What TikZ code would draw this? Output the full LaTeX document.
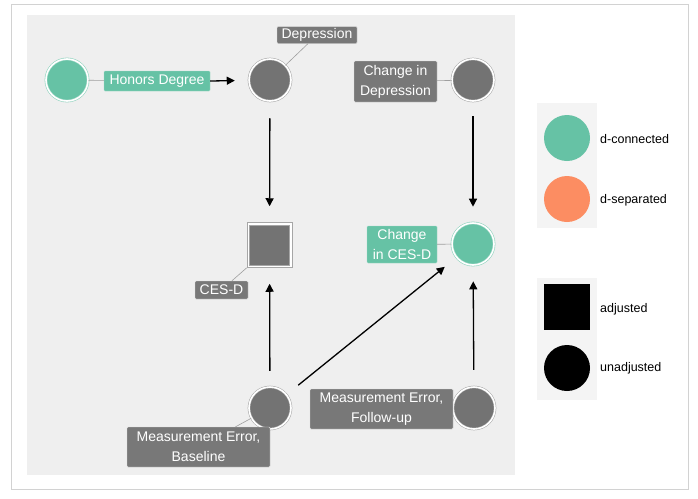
\documentclass[tikz,border=0pt]{standalone}
\usepackage{fontspec}
\setmainfont{Liberation Sans}
\usetikzlibrary{arrows.meta}
\definecolor{dteal}{HTML}{66C2A5}
\definecolor{dorange}{HTML}{FC8D62}
\definecolor{nodegray}{HTML}{737373}
\definecolor{labgray}{HTML}{787878}
\definecolor{panel}{HTML}{EFEFEF}
\definecolor{legpanel}{HTML}{F4F4F4}
\tikzset{
  gnode/.style={circle, fill=nodegray, draw=gray!70, double=white, double distance=1.6pt, line width=0.5pt, minimum size=42pt, inner sep=0pt},
  tnode/.style={circle, fill=dteal, draw=dteal!70, double=white, double distance=1.6pt, line width=0.6pt, minimum size=42pt, inner sep=0pt},
  sqouter/.style={rectangle, fill=white, draw=gray!70, line width=0.5pt, minimum size=45pt, inner sep=0pt},
  sqinner/.style={rectangle, fill=nodegray, draw=gray!70, line width=0.4pt, minimum size=40pt, inner sep=0pt},
  glab/.style={rectangle, rounded corners=1pt, fill=labgray, draw=white!75!gray, line width=0.4pt, text=white, align=center, inner sep=0pt, font=\fontsize{14}{20}\selectfont},
  tlab/.style={glab, fill=dteal, draw=dteal!60},
  leader/.style={draw=gray!75, line width=0.6pt},
  arr/.style={draw=black, line width=1.3pt, -{Triangle[length=8pt,width=8pt]}},
  legtext/.style={anchor=west, font=\fontsize{12.5}{15}\selectfont, inner sep=0pt},
}
\begin{document}
\begin{tikzpicture}[x=1pt,y=-1pt]
\useasboundingbox (0,0) rectangle (698,498);
\fill[white] (0,0) rectangle (698,498);
% outer frame
\draw[gray!35, line width=0.8pt] (11,4) rectangle (688,489);
% main panel
\fill[panel] (27,15) rectangle (515,475);
% legend panels
\fill[legpanel] (537,103) rectangle (597,228);
\fill[legpanel] (537,278) rectangle (597,400);

% nodes
\node[tnode] (hd) at (67,80) {};
\node[gnode] (dep) at (270,80) {};
\node[gnode] (cdep) at (473,80) {};
\node[sqouter] (cesd) at (269.5,245) {};
\node[sqinner] (cesdin) at (269.5,245) {};
\node[tnode] (ccesd) at (473,244) {};
\node[gnode] (meb) at (270,408) {};
\node[gnode] (mef) at (474,408) {};

% labels
\node[tlab, minimum width=106pt, minimum height=20pt] (hdlab) at (157,81) {Honors Degree};
\node[glab, minimum width=80pt, minimum height=17pt] (deplab) at (317,35) {Depression};
\node[glab, minimum width=83pt, minimum height=41pt] (cdeplab) at (395.5,81.5) {Change in\\Depression};
\node[glab, minimum width=53pt, minimum height=18pt] (cesdlab) at (221.5,290) {CES-D};
\node[tlab, minimum width=70pt, minimum height=37pt] (ccesdlab) at (402,244.5) {Change\\in CES-D};
\node[glab, minimum width=143pt, minimum height=40pt] (meblab) at (198.5,447) {Measurement Error,\\Baseline};
\node[glab, minimum width=143pt, minimum height=40pt] (meflab) at (381.5,409) {Measurement Error,\\Follow-up};

% leader lines
\path[leader] (hd) -- (hdlab);
\path[leader] (dep) -- (deplab);
\path[leader] (cdep) -- (cdeplab);
\path[leader] (cesd.south west) -- (cesdlab);
\path[leader] (ccesd) -- (ccesdlab);
\path[leader] (meb) -- (meblab);
\path[leader] (mef) -- (meflab);

% arrows
\draw[arr, shorten >=14pt] (hdlab.east) -- (dep);
\draw[arr, shorten <=17pt, shorten >=16pt] (dep) -- (cesd);
\draw[arr, shorten <=15pt, shorten >=16pt] (cdep) -- (ccesd);
\draw[arr, shorten <=16pt, shorten >=16pt] (meb) -- (cesd);
\draw[arr, shorten <=17pt, shorten >=16pt] (mef) -- (ccesd);
\draw[arr, shorten <=15pt, shorten >=15pt] (meb) -- (ccesd);

% legend
\node[circle, fill=dteal, minimum size=46pt, inner sep=0pt] (lg1) at (567,138) {};
\node[circle, fill=dorange, minimum size=46pt, inner sep=0pt] (lg2) at (567,199) {};
\node[rectangle, fill=black, minimum size=46pt, inner sep=0pt] (lg3) at (566.5,306.5) {};
\node[circle, fill=black, minimum size=46pt, inner sep=0pt] (lg4) at (567,368) {};
\node[legtext] (lt1) at (600,139) {d-connected};
\node[legtext] (lt2) at (600,200) {d-separated};
\node[legtext] (lt3) at (600,309) {adjusted};
\node[legtext] (lt4) at (600,368) {unadjusted};
\end{tikzpicture}
\end{document}
